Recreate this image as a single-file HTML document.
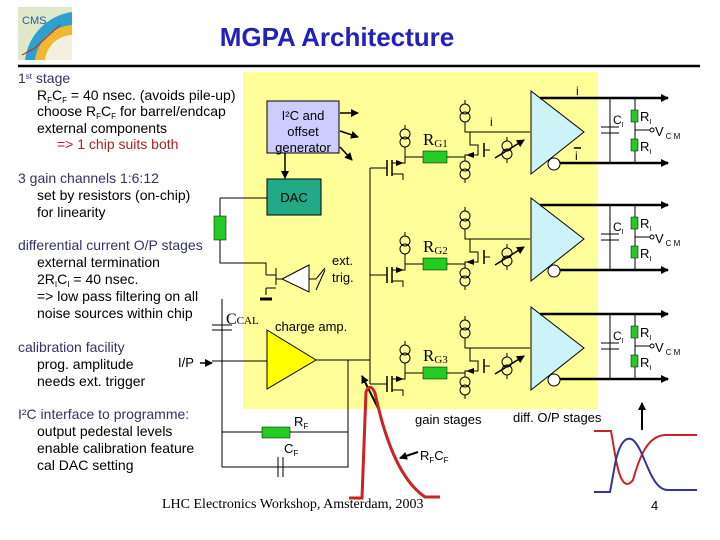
<!DOCTYPE html>
<html><head><meta charset="utf-8"><style>
body{margin:0;background:#fff;width:720px;height:540px;overflow:hidden}
svg{display:block}
</style></head><body>
<svg width="720" height="540" viewBox="0 0 720 540" xmlns="http://www.w3.org/2000/svg" font-family="Liberation Sans, sans-serif">
<defs>
<marker id="ah" markerWidth="8" markerHeight="8" refX="7" refY="4" orient="auto" markerUnits="userSpaceOnUse"><path d="M0,0 L8,4 L0,8 z" fill="#000"/></marker>
<g id="cs"><circle cx="0" cy="-4" r="5" fill="none" stroke="#000"/><circle cx="0" cy="4" r="5" fill="none" stroke="#000"/><line x1="0" y1="-13" x2="0" y2="-9" stroke="#000"/><line x1="0" y1="9" x2="0" y2="13" stroke="#000"/></g>
<g id="stage">
 <polygon points="531,91 584,132 531,174" fill="#ccf4f8" stroke="#000"/>
 <circle cx="554" cy="164" r="6" fill="#fff" stroke="#000"/>
 <line x1="540" y1="98" x2="668" y2="98" stroke="#000" stroke-width="2.5" marker-end="url(#ah)"/>
 <line x1="560" y1="163" x2="668" y2="163" stroke="#000" stroke-width="2.5" marker-end="url(#ah)"/>
 <line x1="610" y1="98" x2="610" y2="163" stroke="#000"/>
 <line x1="601" y1="127" x2="619" y2="127" stroke="#000"/><line x1="601" y1="133" x2="619" y2="133" stroke="#000"/>
 <line x1="635" y1="98" x2="635" y2="163" stroke="#000"/>
 <rect x="631" y="110" width="7" height="12" fill="#22cc22" stroke="#000" stroke-width=".5"/>
 <rect x="631" y="139" width="7" height="12" fill="#22cc22" stroke="#000" stroke-width=".5"/>
 <line x1="635" y1="130" x2="650" y2="130" stroke="#000"/><circle cx="652" cy="130" r="2" fill="#fff" stroke="#000"/>
 <text x="613" y="124" font-size="12">C<tspan font-size="7" dy="3">I</tspan></text>
 <text x="640" y="121" font-size="13">R<tspan font-size="7" dy="3">I</tspan></text>
 <text x="640" y="151" font-size="13">R<tspan font-size="7" dy="3">I</tspan></text>
 <text x="655" y="136" font-size="13">V<tspan font-size="8" dx="2" dy="3">C M</tspan></text>
 <line x1="370" y1="168" x2="387" y2="168" stroke="#000"/>
 <line x1="387" y1="160" x2="387" y2="176" stroke="#000" stroke-width="1.5"/>
 <line x1="392" y1="160" x2="392" y2="176" stroke="#000" stroke-width="1.5"/>
 <path d="M392,163 L405,163 L405,148 M392,174 L403,174 L403,180" fill="none" stroke="#000"/>
 <path d="M404,163 L396,160 L396,166 z" fill="#000"/>
 <use href="#cs" x="405" y="138"/>
 <line x1="405" y1="157" x2="465" y2="157" stroke="#000"/>
 <rect x="423" y="151" width="24" height="12" fill="#22cc22" stroke="#000" stroke-width=".5"/>
 <use href="#cs" x="465" y="113"/>
 <use href="#cs" x="465" y="170"/>
 <path d="M465,126 L465,132 L470,132 L470,145 L478,145 L478,155 L465,155 L465,157" fill="none" stroke="#000"/>
 <path d="M466,155 L474,152 L474,158 z" fill="#000"/>
 <line x1="484" y1="143" x2="484" y2="157" stroke="#000" stroke-width="1.5"/>
 <line x1="484" y1="150" x2="490" y2="150" stroke="#000"/>
 <line x1="470" y1="132" x2="530" y2="132" stroke="#000"/>
 <use href="#cs" x="507" y="150"/>
 <line x1="495" y1="158" x2="524" y2="140" stroke="#000" stroke-width="1.5" marker-end="url(#ah)"/>
</g>
</defs>
<rect x="18" y="7" width="54" height="53" fill="#dfe8c8"/>
<path d="M72,12 A55,55 0 0 0 25,60 L72,60z" fill="#2ea0d0"/>
<path d="M72,25 A40,40 0 0 0 35,60 L72,60z" fill="#f0b830"/>
<path d="M72,35 A28,28 0 0 0 45,60 L72,60z" fill="#f4f0e0"/>
<path d="M22,55 L35,48 L60,25" stroke="#d02020" fill="none"/>
<text x="22" y="24" font-size="11" fill="#2060a0">CMS</text>
<text x="337" y="46" font-size="26" font-weight="bold" fill="#2222bb" text-anchor="middle">MGPA Architecture</text>
<line x1="18" y1="66" x2="700" y2="66" stroke="#000" stroke-width="2.5"/>
<rect x="243" y="72" width="355" height="337" fill="#ffff99"/>
<g font-size="14">
<text x="18" y="83" fill="#333366">1<tspan font-size="8" dy="-4">st</tspan><tspan dy="4"> stage</tspan></text>
<text x="37" y="100">R<tspan font-size="8" dy="3">F</tspan><tspan dy="-3">C</tspan><tspan font-size="8" dy="3">F</tspan><tspan dy="-3"> =  40 nsec. (avoids pile-up)</tspan></text>
<text x="37" y="116">choose R<tspan font-size="8" dy="3">F</tspan><tspan dy="-3">C</tspan><tspan font-size="8" dy="3">F</tspan><tspan dy="-3"> for barrel/endcap</tspan></text>
<text x="37" y="133">external components</text>
<text x="57" y="149" fill="#aa2222">=&gt; 1 chip suits both</text>
<text x="18" y="183" fill="#333366">3 gain channels 1:6:12</text>
<text x="37" y="200">set by resistors (on-chip)</text>
<text x="37" y="217">for linearity</text>
<text x="18" y="250" fill="#333366">differential current O/P stages</text>
<text x="37" y="267">external termination</text>
<text x="37" y="284">2R<tspan font-size="8" dy="3">I</tspan><tspan dy="-3">C</tspan><tspan font-size="8" dy="3">I</tspan><tspan dy="-3"> = 40 nsec.</tspan></text>
<text x="37" y="301">=&gt; low pass filtering on all</text>
<text x="37" y="318">noise sources within chip</text>
<text x="18" y="352" fill="#333366">calibration facility</text>
<text x="37" y="369">prog. amplitude</text>
<text x="37" y="386">needs ext. trigger</text>
<text x="18" y="419" fill="#333366">I²C interface to programme:</text>
<text x="37" y="436">output pedestal levels</text>
<text x="37" y="453">enable calibration feature</text>
<text x="37" y="470">cal DAC setting</text>
</g>
<rect x="267" y="101" width="72" height="52" fill="#ccccff" stroke="#000"/>
<text x="303" y="120" font-size="13" text-anchor="middle">I²C and</text>
<text x="303" y="136" font-size="13" text-anchor="middle">offset</text>
<text x="303" y="152" font-size="13" text-anchor="middle">generator</text>
<line x1="340" y1="113" x2="358" y2="113" stroke="#000" stroke-width="1.5" marker-end="url(#ah)"/>
<line x1="340" y1="131" x2="358" y2="137" stroke="#000" stroke-width="1.5" marker-end="url(#ah)"/>
<line x1="340" y1="147" x2="352" y2="160" stroke="#000" stroke-width="1.5" marker-end="url(#ah)"/>
<line x1="285" y1="153" x2="285" y2="178" stroke="#000" stroke-width="1.5" marker-end="url(#ah)"/>
<rect x="267" y="179" width="54" height="36" fill="#22aa88" stroke="#000"/>
<text x="294" y="202" font-size="13" text-anchor="middle">DAC</text>
<path d="M220,198 L267,198 M220,198 L220,216 M220,240 L220,263 L266,263 L266,275" fill="none" stroke="#000"/>
<rect x="214" y="216" width="12" height="24" fill="#22cc22" stroke="#000" stroke-width=".5"/>
<path d="M266,275 L276,275 M276,268 L276,285 M266,288 L266,295 M266,288 L276,288" fill="none" stroke="#000"/>
<line x1="260" y1="299" x2="272" y2="299" stroke="#000" stroke-width="3"/>
<polygon points="282,279 309,265 309,292" fill="#fff" stroke="#000"/>
<path d="M282,279 L276,279 M309,279 L316,279 L325,268 M316,290 L325,270" fill="none" stroke="#000"/>
<text x="332" y="265" font-size="13">ext.</text><text x="332" y="282" font-size="13">trig.</text>
<line x1="222" y1="299" x2="222" y2="467" stroke="#000"/>
<line x1="212" y1="325" x2="232" y2="325" stroke="#000"/><line x1="212" y1="330" x2="232" y2="330" stroke="#000"/>
<text x="226" y="324" font-size="16" style="font-family:'Liberation Serif',serif">C<tspan font-size="11">CAL</tspan></text>
<text x="178" y="367" font-size="13">I/P</text>
<line x1="200" y1="363" x2="212" y2="363" stroke="#000" stroke-width="1.5" marker-end="url(#ah)"/>
<line x1="212" y1="361" x2="267" y2="361" stroke="#000"/>
<polygon points="267,330 316,360 267,389" fill="#ffff00" stroke="#000"/>
<text x="275" y="331" font-size="13">charge amp.</text>
<path d="M316,360 L370,360 M370,168 L370,384 M348,360 L348,467 L222,467 M222,432 L348,432" fill="none" stroke="#000"/>
<rect x="262" y="427" width="28" height="11" fill="#22cc22" stroke="#000" stroke-width=".5"/>
<text x="294" y="426" font-size="13">R<tspan font-size="8" dy="3">F</tspan></text>
<line x1="278" y1="457" x2="278" y2="477" stroke="#000"/><line x1="283" y1="457" x2="283" y2="477" stroke="#000"/>
<text x="284" y="453" font-size="13">C<tspan font-size="8" dy="3">F</tspan></text>
<line x1="378" y1="408" x2="362" y2="376" stroke="#000" stroke-width="2" marker-end="url(#ah)"/>
<path d="M349,498 L362,498 L366,392 Q370,382 375,393 C385,440 400,480 425,497 L440,497" fill="none" stroke="#cc2222" stroke-width="3"/>
<line x1="418" y1="452" x2="400" y2="458" stroke="#000" stroke-width="2" marker-end="url(#ah)"/>
<text x="420" y="460" font-size="13">R<tspan font-size="8" dy="3">F</tspan><tspan dy="-3">C</tspan><tspan font-size="8" dy="3">F</tspan></text>
<use href="#stage"/>
<use href="#stage" y="107"/>
<use href="#stage" y="216"/>
<g style="font-family:'Liberation Serif',serif" font-size="17">
<text x="423" y="145">R<tspan font-size="11" dy="2">G1</tspan></text>
<text x="423" y="252">R<tspan font-size="11" dy="2">G2</tspan></text>
<text x="423" y="361">R<tspan font-size="11" dy="2">G3</tspan></text>
</g>
<text x="576" y="95" font-size="12">i</text>
<text x="490" y="126" font-size="12">i</text>
<line x1="574" y1="148" x2="581" y2="148" stroke="#000" stroke-width="1.5"/>
<text x="575" y="160" font-size="12">i</text>
<text x="415" y="424" font-size="13">gain stages</text>
<text x="513" y="422" font-size="13">diff. O/P stages</text>
<line x1="642" y1="430" x2="642" y2="403" stroke="#000" stroke-width="2" marker-end="url(#ah)"/>
<path d="M594,431 L611,431 L616,460 C620,480 625,490 633,480 C640,455 648,436 665,435 L697,435" fill="none" stroke="#cc2222" stroke-width="2"/>
<path d="M594,492 L610,492 L614,470 C618,445 625,435 633,440 C645,450 650,490 668,490 L697,490" fill="none" stroke="#333399" stroke-width="2"/>
<text x="162" y="508" font-size="14" style="font-family:'Liberation Serif',serif">LHC Electronics Workshop, Amsterdam, 2003</text>
<text x="651" y="510" font-size="13">4</text>
</svg>
</body></html>
